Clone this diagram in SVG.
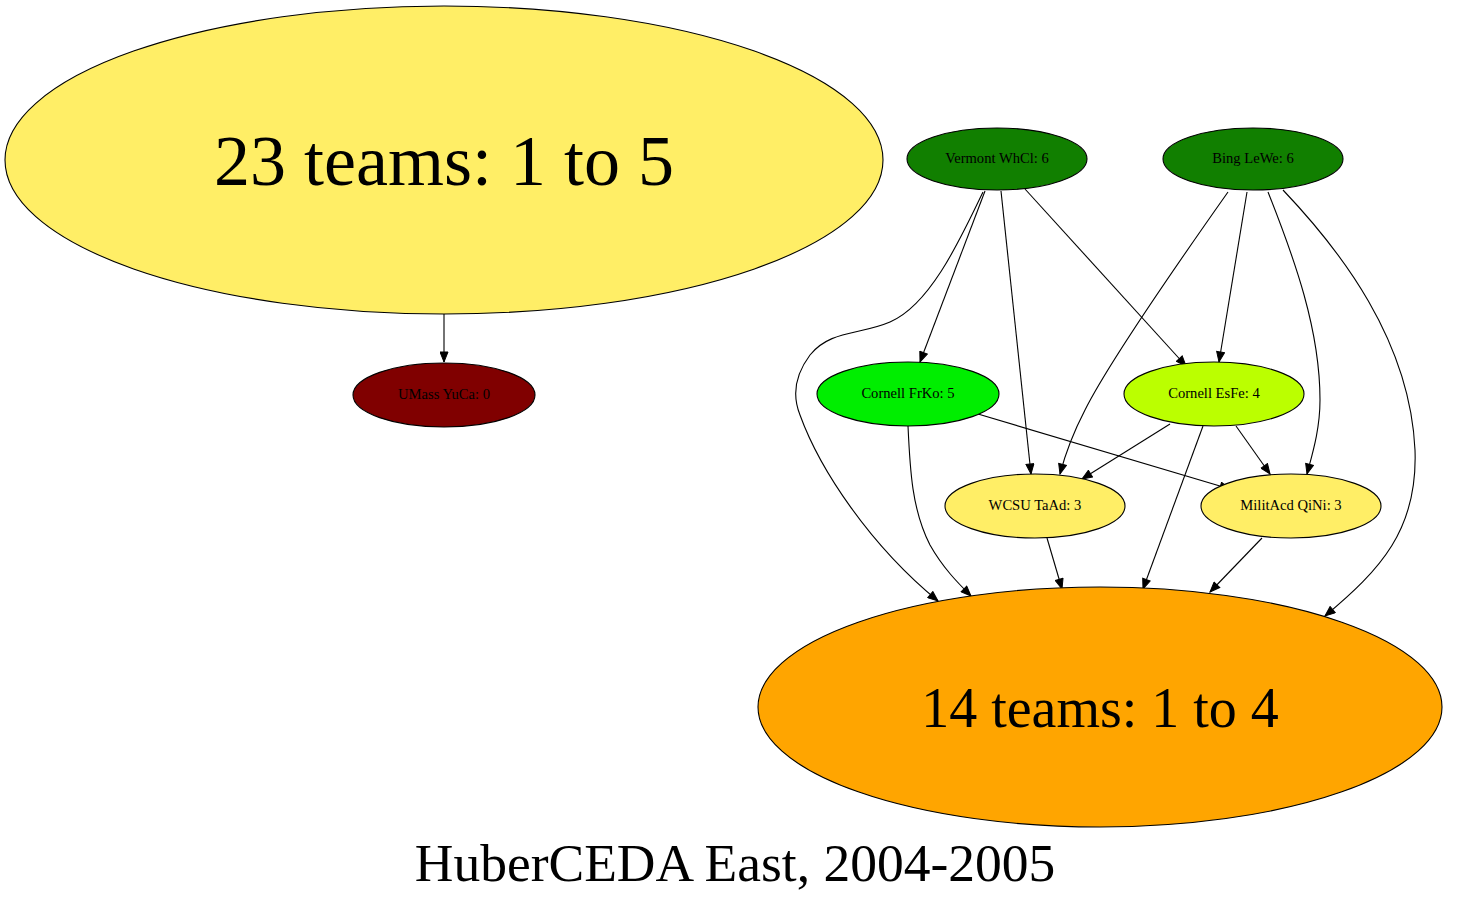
<svg xmlns="http://www.w3.org/2000/svg" width="1469" height="903" viewBox="0 0 1469 903">
<defs>
<marker id="ah" markerUnits="userSpaceOnUse" markerWidth="12" markerHeight="9" refX="11" refY="4.5" orient="auto">
<path d="M1,0.5 L11,4.5 L1,8.5 z" fill="#000" stroke="#000" stroke-width="1"/>
</marker>
</defs>
<style>
ellipse{stroke:#000;stroke-width:1.1}
text{font-family:"Liberation Serif","Times New Roman",serif;text-anchor:middle;fill:#000}
.s{font-size:14.6px}
.e{fill:none;stroke:#000;stroke-width:1.1;marker-end:url(#ah)}
</style>
<rect width="1469" height="903" fill="#fff"/>
<g id="connectors">
<path class="e" d="M444,314 L444,362"/>
<path class="e" d="M985,191 L920,362"/>
<path class="e" d="M1001,191 L1031,474"/>
<path class="e" d="M1025,189 L1186,366"/>
<path class="e" d="M983,192 C960,240 930,305 890,322 C860,335 830,330 810,355 C795,375 792,395 800,415 C820,470 870,545 938,601"/>
<path class="e" d="M1228,192 C1180,260 1110,360 1085,410 C1072,435 1065,455 1060,474"/>
<path class="e" d="M1247,192 L1219,362"/>
<path class="e" d="M1268,192 C1295,260 1320,330 1320,400 C1320,430 1312,455 1307,474"/>
<path class="e" d="M1283,190 C1340,250 1410,340 1415,450 C1418,530 1380,570 1325,616"/>
<path class="e" d="M978,414 L1230,489"/>
<path class="e" d="M908,426 C910,470 912,510 930,545 C943,568 958,583 971,596"/>
<path class="e" d="M1170,424 L1082,479"/>
<path class="e" d="M1236,426 L1270,474"/>
<path class="e" d="M1203,426 L1143,589"/>
<path class="e" d="M1047,538 L1062,589"/>
<path class="e" d="M1262,538 L1210,592"/>
</g>
<g id="n23">
<ellipse cx="444" cy="160" rx="439" ry="154" fill="#ffee66"/>
<text x="444" y="185" font-size="72">23 teams: 1 to 5</text>
</g>
<g id="umass">
<ellipse cx="444" cy="395" rx="91" ry="32" fill="#800000"/>
<text class="s" x="444" y="399">UMass YuCa: 0</text>
</g>
<g id="vermont">
<ellipse cx="997" cy="159" rx="90" ry="31" fill="#117f00"/>
<text class="s" x="997" y="163">Vermont WhCl: 6</text>
</g>
<g id="bing">
<ellipse cx="1253" cy="159" rx="90" ry="31" fill="#117f00"/>
<text class="s" x="1253" y="163">Bing LeWe: 6</text>
</g>
<g id="frko">
<ellipse cx="908" cy="394" rx="91" ry="32" fill="#00ee00"/>
<text class="s" x="908" y="398">Cornell FrKo: 5</text>
</g>
<g id="esfe">
<ellipse cx="1214" cy="394" rx="90" ry="32" fill="#bbff00"/>
<text class="s" x="1214" y="398">Cornell EsFe: 4</text>
</g>
<g id="wcsu">
<ellipse cx="1035" cy="506" rx="90" ry="32" fill="#ffee66"/>
<text class="s" x="1035" y="510">WCSU TaAd: 3</text>
</g>
<g id="milit">
<ellipse cx="1291" cy="506" rx="90" ry="32" fill="#ffee66"/>
<text class="s" x="1291" y="510">MilitAcd QiNi: 3</text>
</g>
<g id="n14">
<ellipse cx="1100" cy="707" rx="342" ry="120" fill="#ffa500"/>
<text x="1100" y="727" font-size="56">14 teams: 1 to 4</text>
</g>
<text x="735" y="881" font-size="53.5">HuberCEDA East, 2004-2005</text>
</svg>
